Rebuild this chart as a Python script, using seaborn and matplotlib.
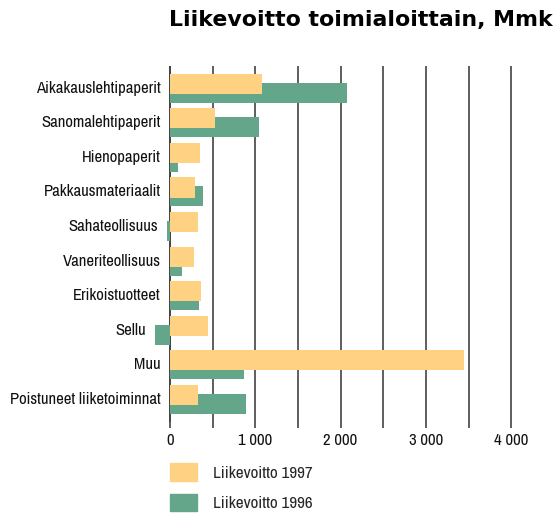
import matplotlib
matplotlib.use("Agg")
import matplotlib.pyplot as plt
import matplotlib.patches as mpatches
import matplotlib.transforms as mtransforms
from matplotlib import font_manager as fm
from matplotlib.ticker import FuncFormatter, MultipleLocator
import pandas as pd
import seaborn as sns

# data (Mmk)
categories = ["Aikakauslehtipaperit", "Sanomalehtipaperit", "Hienopaperit",
              "Pakkausmateriaalit", "Sahateollisuus", "Vaneriteollisuus",
              "Erikoistuotteet", "Sellu", "Muu", "Poistuneet liiketoiminnat"]
profit_1997 = [1080, 530, 350, 295, 330, 280, 365, 445, 3445, 330]
profit_1996 = [2075, 1045, 90, 385, -40, 140, 340, -175, 865, 890]
series_labels = ["Liikevoitto 1997", "Liikevoitto 1996"]
title = "Liikevoitto toimialoittain, Mmk"

YELLOW = "#FED282"
GREEN = "#63A68A"
LINE = "#333333"


# look for an upright narrow font, the original uses a condensed face
def pick_narrow_font():
    fonts = [f for f in fm.fontManager.ttflist
             if f.style == "normal" and f.weight in (400, "normal", "regular")]
    for f in fonts:
        if "Narrow" in f.name or "Condensed" in f.name:
            return fm.FontProperties(fname=f.fname), 1.0
    for f in fonts:
        if f.stretch in ("condensed", "semi-condensed", "extra-condensed"):
            return fm.FontProperties(fname=f.fname), 1.0
    return fm.FontProperties(family="Roboto"), 0.88


sns.set_theme(style="white")
plt.rcParams["font.family"] = ["DejaVu Sans"]
narrow, scale = pick_narrow_font()

df = pd.DataFrame({"toimiala": categories, "y1997": profit_1997, "y1996": profit_1996})

W, H = 556, 513
fig = plt.figure(figsize=(W / 100, H / 100), dpi=100)

# axes placed so that 0 sits at x=170px and 1000 spans ~85.3px
x_lo, x_hi = -200, 4100
px_per = 85.3 / 1000
left_px = 170 + x_lo * px_per
right_px = 170 + x_hi * px_per
top_px, bottom_px = 66, 421.5
ax = fig.add_axes([left_px / W, 1 - bottom_px / H,
                   (right_px - left_px) / W, (bottom_px - top_px) / H])

bar_h = 0.58
shift = 0.13
sns.barplot(data=df, y="toimiala", x="y1996", color=GREEN, width=bar_h,
            saturation=1, orient="h", ax=ax, zorder=3)
n_green = len(ax.patches)
sns.barplot(data=df, y="toimiala", x="y1997", color=YELLOW, width=bar_h,
            saturation=1, orient="h", ax=ax, zorder=4)
for i, p in enumerate(ax.patches):
    p.set_linewidth(0)
    p.set_y(p.get_y() + (shift if i < n_green else -shift))

ax.set_xlim(x_lo, x_hi)
ax.set_ylim(len(categories) - 0.35, -0.65)
ax.set_xlabel("")
ax.set_ylabel("")

ax.xaxis.set_major_locator(MultipleLocator(1000))
ax.xaxis.set_minor_locator(MultipleLocator(500))
ax.xaxis.set_major_formatter(FuncFormatter(lambda v, _: f"{int(v):,}".replace(",", " ")))
for v in range(500, 4001, 500):
    ax.axvline(v, color=LINE, lw=1.1, zorder=1)
ax.axvline(0, color=LINE, lw=1.3, zorder=2)
ax.tick_params(axis="x", which="both", direction="out", length=4, width=1.1,
               color=LINE, pad=4, bottom=True)
for lab in ax.get_xticklabels():
    lab.set_fontproperties(narrow)
    lab.set_fontsize(12 * scale)
    lab.set_color("#111111")

# category labels: right-aligned just left of the zero line,
# pushed further left where a negative bar sticks out
ax.set_yticks(range(len(categories)))
ax.set_yticklabels([])
ax.tick_params(axis="y", length=0)
nudge = mtransforms.ScaledTranslation(-9 / 100, 0, fig.dpi_scale_trans)
for i, name in enumerate(categories):
    x_end = min(0, profit_1996[i], profit_1997[i])
    ax.text(x_end, i, name, ha="right", va="center", fontproperties=narrow,
            fontsize=12 * scale, color="#111111", transform=ax.transData + nudge,
            clip_on=False)

for s in ax.spines.values():
    s.set_visible(False)

fig.text(553 / W, 1 - 20 / H, title, ha="right", va="center",
         fontsize=15.8, fontweight="bold", color="black")

handles = [mpatches.Patch(color=YELLOW, label=series_labels[0]),
           mpatches.Patch(color=GREEN, label=series_labels[1])]
leg_font = narrow.copy()
leg_font.set_size(12.3 * scale)
fig.legend(handles=handles, loc="upper left", bbox_to_anchor=(170 / W, 1 - 463 / H),
           frameon=False, prop=leg_font, handlelength=1.6, handleheight=1.2,
           handletextpad=0.9, labelspacing=0.78, borderaxespad=0, borderpad=0)

fig.savefig("out.png", dpi=100)
